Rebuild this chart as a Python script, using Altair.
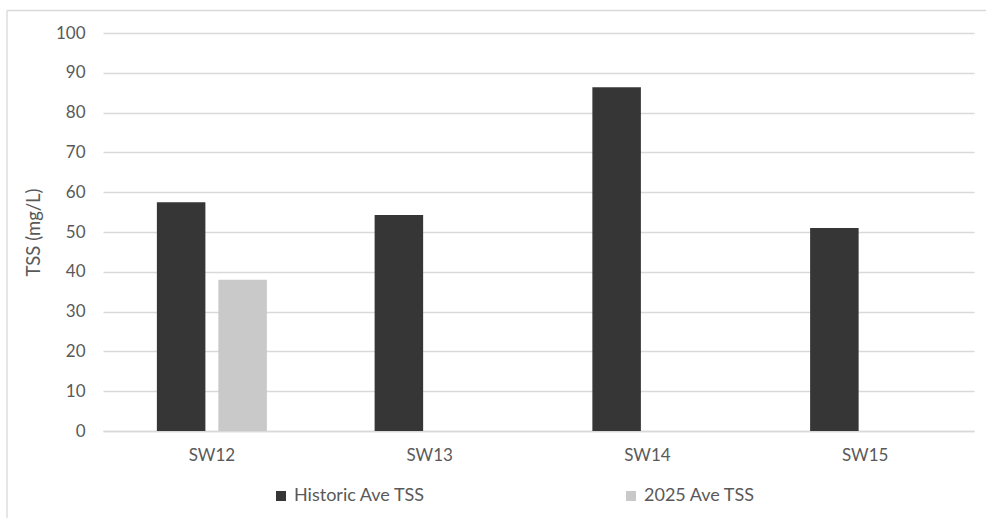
import altair as alt
import pandas as pd

sites = ["SW12", "SW13", "SW14", "SW15"]
historic = [57.5, 54.3, 86.4, 51.0]
recent_sites = ["SW12"]
recent = [38.0]
series_names = ["Historic Ave TSS", "2025 Ave TSS"]
colors = ["#363636", "#c9c9c9"]
y_ticks = [0, 10, 20, 30, 40, 50, 60, 70, 80, 90, 100]

rows = [{"site": s, "series": series_names[0], "value": v} for s, v in zip(sites, historic)]
rows += [{"site": s, "series": series_names[1], "value": v} for s, v in zip(recent_sites, recent)]
df = pd.DataFrame(rows)

FONT = "Lato"
GRAY = "#595959"

bars = alt.Chart(df).mark_bar().encode(
    x=alt.X("site:N", sort=sites, title=None,
            scale=alt.Scale(paddingInner=0, paddingOuter=0),
            axis=alt.Axis(labelAngle=0, domain=True, domainColor="#d9d9d9", domainWidth=1.3,
                          ticks=False, labelPadding=16, labelFontSize=17, labelColor=GRAY,
                          labelFont=FONT, grid=False)),
    xOffset=alt.XOffset("series:N", sort=series_names,
                        scale=alt.Scale(domain=series_names, paddingInner=0.211, paddingOuter=0.876)),
    y=alt.Y("value:Q", title="TSS (mg/L)",
            scale=alt.Scale(domain=[0, 100], nice=False),
            axis=alt.Axis(values=y_ticks, domain=False, ticks=False, labelPadding=18,
                          labelFontSize=17, labelColor=GRAY, labelFont=FONT,
                          gridColor="#d9d9d9", gridWidth=1.3,
                          titleFont=FONT, titleFontSize=18.5, titleColor=GRAY, titleFontWeight="normal",
                          titleX=-70, titleY=199, titleAngle=-90, titleAlign="center",
                          titleBaseline="middle")),
    color=alt.Color("series:N", sort=series_names,
                    scale=alt.Scale(domain=series_names, range=colors),
                    legend=alt.Legend(title=None, orient="none", legendX=169, legendY=454,
                                      direction="horizontal", symbolType="square", symbolSize=100,
                                      symbolStrokeWidth=0, labelFont=FONT, labelFontSize=18,
                                      labelColor=GRAY, columnPadding=196, labelOffset=4)),
)

frame_left = alt.Chart(pd.DataFrame({"a": [0]})).mark_rule(color="#d9d9d9", strokeWidth=1.3).encode(
    x=alt.value(-96), y=alt.value(-22.5), y2=alt.value(600))
frame_top = alt.Chart(pd.DataFrame({"a": [0]})).mark_rule(color="#d9d9d9", strokeWidth=1.3).encode(
    x=alt.value(-96), x2=alt.value(1000), y=alt.value(-22.5))

chart = alt.layer(frame_left, frame_top, bars).properties(
    width=871, height=398,
    background="white",
    autosize=alt.AutoSizeParams(type="none"),
    padding={"left": 103, "top": 33, "right": 12, "bottom": 87},
).configure_view(stroke="transparent", strokeWidth=0)

chart.save("out.html", embed_options={"renderer": "svg", "actions": False})
